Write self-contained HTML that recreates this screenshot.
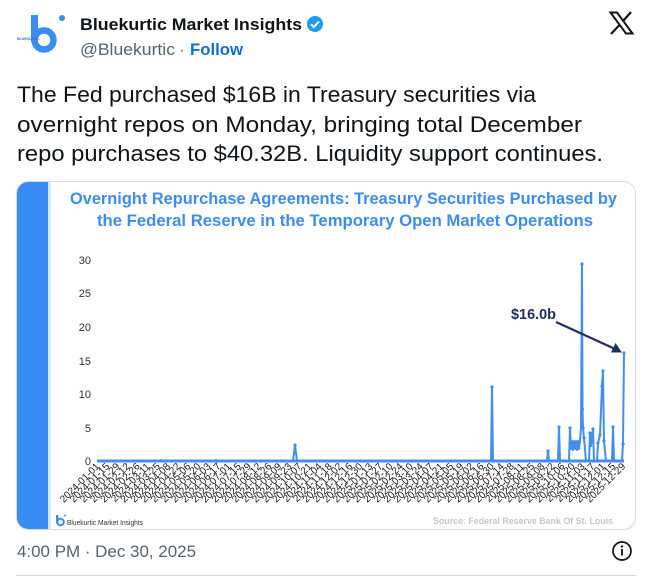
<!DOCTYPE html>
<html><head><meta charset="utf-8"><style>
html,body{margin:0;padding:0;background:#fff;}
svg{display:block;}
text{font-family:"Liberation Sans",Arial,sans-serif;}
</style></head><body>
<svg width="655" height="580" viewBox="0 0 655 580" xmlns="http://www.w3.org/2000/svg">
<rect width="655" height="580" fill="#fff"/>
<!-- logo -->
<g fill="none" stroke="#3a8cf5">
<circle cx="44" cy="40" r="9.5" stroke-width="6.5"/>
</g>
<rect x="31" y="15" width="7" height="27" fill="#3a8cf5"/>
<circle cx="62" cy="18" r="3" fill="#3a8cf5"/>
<text x="17" y="40" font-size="3.5" fill="#2f6fc8" font-weight="bold">BLUEKURTIC</text>
<!-- name -->
<text x="80" y="30" font-size="17" font-weight="bold" fill="#0f1419" textLength="222" lengthAdjust="spacingAndGlyphs">Bluekurtic Market Insights</text>
<circle cx="315" cy="24" r="8" fill="#1d9bf0"/>
<path d="M311 24.3 l2.8 2.8 l5.2 -5.6" fill="none" stroke="#fff" stroke-width="2"/>
<text x="80" y="55" font-size="17" fill="#536471" textLength="95" lengthAdjust="spacingAndGlyphs">@Bluekurtic</text>
<text x="179" y="55" font-size="17" fill="#536471">·</text>
<text x="190" y="55" font-size="17" font-weight="bold" fill="#0f6fd0" textLength="53" lengthAdjust="spacingAndGlyphs">Follow</text>
<!-- X logo -->
<polygon points="610.5,12.5 617,12.5 632.5,33.5 626,33.5" fill="#fff" stroke="#0f1419" stroke-width="2"/>
<line x1="631" y1="12" x2="623.5" y2="20.5" stroke="#0f1419" stroke-width="2.2"/>
<line x1="619" y1="25.5" x2="611" y2="34" stroke="#0f1419" stroke-width="2.2"/>
<!-- tweet text -->
<g font-size="22.5" fill="#0f1419">
<text x="17" y="102" textLength="519" lengthAdjust="spacingAndGlyphs">The Fed purchased $16B in Treasury securities via</text>
<text x="17" y="132" textLength="565" lengthAdjust="spacingAndGlyphs">overnight repos on Monday, bringing total December</text>
<text x="17" y="161" textLength="586" lengthAdjust="spacingAndGlyphs">repo purchases to $40.32B. Liquidity support continues.</text>
</g>
<!-- card -->
<defs><clipPath id="cc"><rect x="16.5" y="181.5" width="619" height="348" rx="12"/></clipPath></defs>
<rect x="16.5" y="181.5" width="619" height="348" rx="12" fill="#fff"/>
<g clip-path="url(#cc)">
<rect x="16" y="181" width="33" height="349" fill="#3a8cf5"/>
<rect x="48" y="181" width="2.5" height="349" fill="#cfe3fb"/>
</g>
<rect x="16.5" y="181.5" width="619" height="348" rx="12" fill="none" stroke="#d5dde2" stroke-width="1"/>
<!-- title -->
<g font-size="16.5" font-weight="bold" fill="#3d8cf0">
<text x="70" y="204" textLength="547" lengthAdjust="spacingAndGlyphs">Overnight Repurchase Agreements: Treasury Securities Purchased by</text>
<text x="97" y="226" textLength="496" lengthAdjust="spacingAndGlyphs">the Federal Reserve in the Temporary Open Market Operations</text>
</g>
<!-- y axis -->
<g font-size="11" fill="#333" text-anchor="end">
<text x="91" y="264">30</text>
<text x="91" y="297">25</text>
<text x="91" y="331">20</text>
<text x="91" y="365">15</text>
<text x="91" y="398">10</text>
<text x="91" y="432">5</text>
<text x="91" y="465">0</text>
</g>
<!-- data -->
<line x1="97" y1="461" x2="624" y2="461" stroke="#3f8ef0" stroke-width="3"/>
<polyline fill="none" stroke="#3f8ef0" stroke-width="2" stroke-linejoin="round" points="97,461 160,461 161,460 162,461 215,461 216,460 217,461 293,461 295,445 297,461 491,461 492,387 493,461 547,461 548,451 549,461 558,461 559,427 560,461 569,461 570,428 571,449 572,441 573,450 574,441 575,449 576,441 577,450 578,441 579,449 580,441 581,428 582,264 582.5,409 583,428 584,438 586,461 589,461 590,433 591,446 593,429 594,461 597,461 598,443 600,435 602,386 603,371 604,441 606,461 612,461 613,427 614,461 622,461 623,444 624,353"/>
<g fill="#3f8ef0">
<circle cx="295" cy="445" r="1.6"/><circle cx="492" cy="387" r="1.6"/><circle cx="548" cy="451" r="1.6"/>
<circle cx="559" cy="427" r="1.6"/><circle cx="570" cy="428" r="1.6"/><circle cx="582" cy="264" r="1.6"/>
<circle cx="582.5" cy="409" r="1.6"/><circle cx="583" cy="428" r="1.6"/><circle cx="584" cy="438" r="1.6"/>
<circle cx="590" cy="433" r="1.6"/><circle cx="593" cy="429" r="1.6"/><circle cx="598" cy="443" r="1.6"/>
<circle cx="600" cy="435" r="1.6"/><circle cx="602" cy="386" r="1.6"/><circle cx="603" cy="371" r="1.6"/>
<circle cx="604" cy="441" r="1.6"/><circle cx="613" cy="427" r="1.6"/><circle cx="623" cy="444" r="1.6"/>
<circle cx="624" cy="353" r="1.6"/>
</g>
<!-- annotation -->
<text x="511" y="319" font-size="15" font-weight="bold" fill="#1c2f5e" textLength="45" lengthAdjust="spacingAndGlyphs">$16.0b</text>
<line x1="556" y1="322" x2="614" y2="348.5" stroke="#1c2f5e" stroke-width="2.3"/>
<polygon points="622,352.5 611,352.5 615.5,343" fill="#1c2f5e"/>
<!-- x labels -->
<g font-size="10" fill="#1a1a1a" text-anchor="end">
<text transform="translate(100,467) rotate(-45)">2024-01-01</text>
<text transform="translate(110.1,467) rotate(-45)">2024-01-15</text>
<text transform="translate(120.2,467) rotate(-45)">2024-01-29</text>
<text transform="translate(130.3,467) rotate(-45)">2024-02-12</text>
<text transform="translate(140.5,467) rotate(-45)">2024-02-26</text>
<text transform="translate(150.6,467) rotate(-45)">2024-03-11</text>
<text transform="translate(160.7,467) rotate(-45)">2024-03-25</text>
<text transform="translate(170.8,467) rotate(-45)">2024-04-08</text>
<text transform="translate(180.9,467) rotate(-45)">2024-04-22</text>
<text transform="translate(191,467) rotate(-45)">2024-05-06</text>
<text transform="translate(201.2,467) rotate(-45)">2024-05-20</text>
<text transform="translate(211.3,467) rotate(-45)">2024-06-03</text>
<text transform="translate(221.4,467) rotate(-45)">2024-06-17</text>
<text transform="translate(231.5,467) rotate(-45)">2024-07-01</text>
<text transform="translate(241.6,467) rotate(-45)">2024-07-15</text>
<text transform="translate(251.7,467) rotate(-45)">2024-07-29</text>
<text transform="translate(261.8,467) rotate(-45)">2024-08-12</text>
<text transform="translate(272,467) rotate(-45)">2024-08-26</text>
<text transform="translate(282.1,467) rotate(-45)">2024-09-09</text>
<text transform="translate(292.2,467) rotate(-45)">2024-09-23</text>
<text transform="translate(302.3,467) rotate(-45)">2024-10-07</text>
<text transform="translate(312.4,467) rotate(-45)">2024-10-21</text>
<text transform="translate(322.5,467) rotate(-45)">2024-11-04</text>
<text transform="translate(332.6,467) rotate(-45)">2024-11-18</text>
<text transform="translate(342.8,467) rotate(-45)">2024-12-02</text>
<text transform="translate(352.9,467) rotate(-45)">2024-12-16</text>
<text transform="translate(363,467) rotate(-45)">2024-12-30</text>
<text transform="translate(373.1,467) rotate(-45)">2025-01-13</text>
<text transform="translate(383.2,467) rotate(-45)">2025-01-27</text>
<text transform="translate(393.3,467) rotate(-45)">2025-02-10</text>
<text transform="translate(403.5,467) rotate(-45)">2025-02-24</text>
<text transform="translate(413.6,467) rotate(-45)">2025-03-10</text>
<text transform="translate(423.7,467) rotate(-45)">2025-03-24</text>
<text transform="translate(433.8,467) rotate(-45)">2025-04-07</text>
<text transform="translate(443.9,467) rotate(-45)">2025-04-21</text>
<text transform="translate(454,467) rotate(-45)">2025-05-05</text>
<text transform="translate(464.1,467) rotate(-45)">2025-05-19</text>
<text transform="translate(474.3,467) rotate(-45)">2025-06-02</text>
<text transform="translate(484.4,467) rotate(-45)">2025-06-16</text>
<text transform="translate(494.5,467) rotate(-45)">2025-06-30</text>
<text transform="translate(504.6,467) rotate(-45)">2025-07-14</text>
<text transform="translate(514.7,467) rotate(-45)">2025-07-28</text>
<text transform="translate(524.8,467) rotate(-45)">2025-08-11</text>
<text transform="translate(534.9,467) rotate(-45)">2025-08-25</text>
<text transform="translate(545.1,467) rotate(-45)">2025-09-08</text>
<text transform="translate(555.2,467) rotate(-45)">2025-09-22</text>
<text transform="translate(565.3,467) rotate(-45)">2025-10-06</text>
<text transform="translate(575.4,467) rotate(-45)">2025-10-20</text>
<text transform="translate(585.5,467) rotate(-45)">2025-11-03</text>
<text transform="translate(595.6,467) rotate(-45)">2025-11-17</text>
<text transform="translate(605.8,467) rotate(-45)">2025-12-01</text>
<text transform="translate(615.9,467) rotate(-45)">2025-12-15</text>
<text transform="translate(626,467) rotate(-45)">2025-12-29</text>
</g>
<!-- card footer -->
<circle cx="60.5" cy="522" r="3.3" fill="none" stroke="#3a8cf5" stroke-width="2"/>
<rect x="56" y="515" width="2.2" height="8" fill="#3a8cf5"/>
<circle cx="65" cy="515.5" r="1" fill="#3a8cf5"/>
<text x="67" y="525" font-size="7.5" fill="#333" textLength="76" lengthAdjust="spacingAndGlyphs">Bluekurtic Market Insights</text>
<text x="433" y="524" font-size="9.5" font-weight="bold" fill="#c3c7cf" textLength="180" lengthAdjust="spacingAndGlyphs">Source: Federal Reserve Bank Of St. Louis</text>
<!-- timestamp -->
<text x="17" y="557" font-size="17" fill="#536471" textLength="179" lengthAdjust="spacingAndGlyphs">4:00 PM · Dec 30, 2025</text>
<circle cx="622" cy="551" r="9" fill="none" stroke="#0f1419" stroke-width="1.7"/>
<circle cx="622" cy="546.5" r="1.2" fill="#0f1419"/>
<rect x="621.1" y="549" width="1.8" height="6.5" fill="#0f1419"/>
<line x1="16" y1="575.5" x2="636" y2="575.5" stroke="#cfd9de" stroke-width="1"/>
</svg>
</body></html>
